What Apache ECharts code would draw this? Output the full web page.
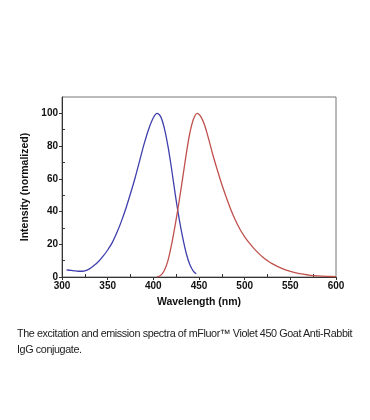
<!DOCTYPE html>
<html><head><meta charset="utf-8">
<script src="https://cdn.jsdelivr.net/npm/echarts@6/dist/echarts.min.js"></script>
<style>
html,body{margin:0;padding:0;background:#fff;}
#c{width:370px;height:420px;position:absolute;left:0;top:0;}
#cap{position:absolute;left:17px;top:325px;width:352px;font-family:"Liberation Sans",Arial,sans-serif;font-size:10.8px;line-height:16px;color:#222;letter-spacing:-0.4px;}
</style></head>
<body>
<div id="c"></div>
<div id="cap">The excitation and emission spectra of mFluor™ Violet 450 Goat Anti-Rabbit<br>IgG conjugate.</div>
<script>
const xTicks = [300, 350, 400, 450, 500, 550, 600];
const yTicks = [0, 20, 40, 60, 80, 100];
const excitation = [[305,4.3],[310,4.0],[315,3.7],[320,3.5],[325,3.8],[330,5],[335,7],[340,9.5],[345,12.7],[350,16.5],[355,21],[360,27],[365,34],[370,42],[375,51],[380,60.5],[385,71],[390,81.5],[395,90.5],[400,97.3],[404,100],[408,98],[412,91],[416,80],[420,66],[424,50.5],[428,36.5],[432,24.5],[436,14.5],[440,7.5],[444,3.5],[447,2]];
const emission = [[404,0],[408,1],[412,4],[416,10],[420,20],[424,32],[428,45.5],[432,60],[436,75],[440,88],[444,96.5],[448,100],[452,98],[456,93],[460,85.5],[465,75],[470,65.5],[475,56.5],[480,48.5],[485,41],[490,34.5],[495,29],[500,24.5],[505,20.8],[510,17.5],[515,14.6],[520,12.1],[525,10],[530,8.2],[540,5.4],[550,3.4],[560,2],[570,1.2],[580,0.7],[590,0.4],[600,0.2]];
const xMinor = [325,375,425,475,525,575];
const yMinor = [10,30,50,70,90];

const chart = echarts.init(document.getElementById('c'));
const font = '"Liberation Sans", Arial, sans-serif';
chart.setOption({
  animation:false,
  grid:{left:62,right:34,top:97,bottom:143,show:true,borderColor:'#777',borderWidth:1},
  xAxis:[{
    type:'value',min:300,max:600,interval:50,
    axisLine:{show:true,onZero:false,lineStyle:{color:'#333',width:1}},
    axisTick:{show:true,inside:false,length:3,lineStyle:{color:'#333'}},
    axisLabel:{color:'#111',fontWeight:'bold',fontSize:10,fontFamily:font,margin:4},
    splitLine:{show:false},
    name:'Wavelength (nm)',nameLocation:'middle',nameGap:20,
    nameTextStyle:{color:'#111',fontWeight:'bold',fontSize:10.5,fontFamily:font}
  },{
    type:'value',min:300,max:600,position:'bottom',
    axisLine:{show:false},axisLabel:{show:false},splitLine:{show:false},
    axisTick:{show:true,inside:true,length:3,customValues:xMinor,lineStyle:{color:'#333'}}
  }],
  yAxis:[{
    type:'value',min:0,max:110,interval:20,
    axisLine:{show:true,lineStyle:{color:'#333',width:1}},
    axisTick:{show:true,inside:false,length:3,customValues:yTicks,lineStyle:{color:'#333'}},
    axisLabel:{color:'#111',fontWeight:'bold',fontSize:10,fontFamily:font,margin:4,customValues:yTicks},
    splitLine:{show:false},
    name:'Intensity (normalized)',nameLocation:'middle',nameGap:25,nameRotate:90,
    nameTextStyle:{color:'#111',fontWeight:'bold',fontSize:10.5,fontFamily:font}
  },{
    type:'value',min:0,max:110,position:'left',
    axisLine:{show:false},axisLabel:{show:false},splitLine:{show:false},
    axisTick:{show:true,inside:true,length:3,customValues:yMinor,lineStyle:{color:'#333'}}
  }],
  series:[
    {type:'line',data:excitation,smooth:0.35,showSymbol:false,lineStyle:{color:'#3f3fae',width:1.3},xAxisIndex:0,yAxisIndex:0},
    {type:'line',data:emission,smooth:0.35,showSymbol:false,lineStyle:{color:'#c0504d',width:1.3},xAxisIndex:0,yAxisIndex:0}
  ]
});
</script>
</body></html>
